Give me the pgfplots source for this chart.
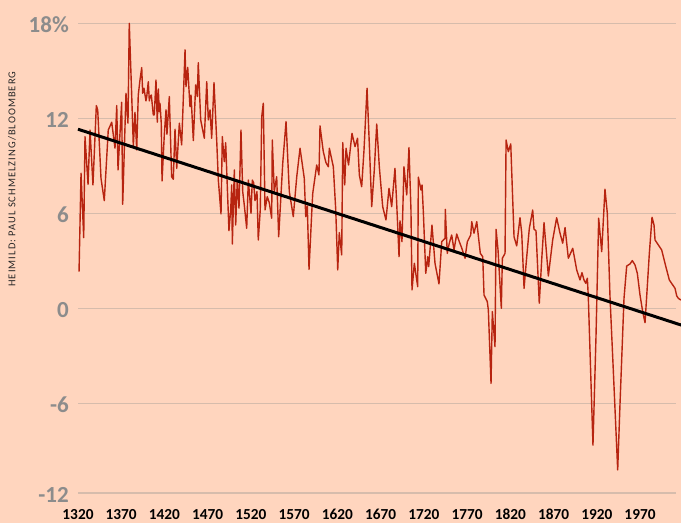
\documentclass[border=0pt]{standalone}
\usepackage{fontspec}
\setmainfont{Carlito}
\newfontfamily\srcfont[LetterSpace=10]{Carlito}
\usepackage{pgfplots}
\pgfplotsset{compat=1.18}
\definecolor{bg}{RGB}{255,213,190}
\definecolor{redline}{RGB}{183,36,16}
\definecolor{gridc}{RGB}{214,188,172}
\definecolor{tickgray}{RGB}{140,140,140}
\pgfplotstableread{
year value
1321.2 2.31
1323.5 8.53
1326.6 4.46
1328.1 10.84
1331.6 7.83
1333.9 11.26
1337.3 7.79
1341.2 12.80
1342.8 12.53
1346.6 8.21
1350.4 6.80
1355.0 11.26
1359.0 11.75
1362.8 10.11
1364.8 12.80
1366.3 8.74
1370.5 13.01
1371.7 6.57
1375.5 13.58
1377.8 11.69
1379.3 18.0
1382.1 13.47
1384.0 10.21
1385.9 12.38
1387.9 10.0
1389.7 13.47
1391.7 14.42
1393.7 15.2
1394.8 13.58
1396.3 13.9
1398.6 13.1
1399.5 13.37
1401.3 14.31
1402.5 13.1
1403.3 13.37
1404.8 13.47
1407.1 12.21
1408.2 12.21
1410.2 14.42
1411.7 11.75
1412.9 13.85
1414.0 12.42
1414.8 12.95
1416.3 11.69
1417.2 8.04
1419.8 10.95
1421.8 12.53
1422.9 10.99
1425.6 13.37
1428.3 8.31
1430.2 8.15
1432.2 11.31
1434.2 8.84
1437.2 11.69
1439.9 10.32
1443.8 16.32
1444.9 14.0
1446.9 15.22
1449.5 12.74
1450.7 13.47
1453.4 10.59
1456.1 14.11
1458.0 13.37
1459.1 15.51
1461.9 11.9
1464.2 11.26
1466.1 10.74
1468.9 14.31
1470.7 11.9
1472.7 12.53
1474.6 10.74
1477.3 14.25
1480.4 10.63
1482.3 8.1
1485.4 5.96
1486.9 10.84
1489.2 9.26
1490.8 10.46
1493.1 7.05
1494.6 4.9
1496.6 6.21
1497.8 7.79
1498.5 4.06
1500.8 8.74
1502.4 5.26
1504.2 8.1
1506.2 6.32
1508.5 11.26
1510.5 7.37
1512.3 6.53
1515.1 5.05
1517.0 8.1
1520.1 6.0
1521.6 8.1
1523.2 7.92
1524.7 6.8
1527.0 7.37
1528.5 4.31
1530.8 6.21
1532.5 12.1
1534.3 12.95
1536.3 6.21
1538.9 7.05
1541.3 6.65
1544.0 5.69
1544.7 10.63
1547.0 7.37
1549.8 8.31
1552.1 4.52
1556.8 9.16
1560.6 11.79
1564.4 7.37
1569.0 5.79
1573.0 8.31
1576.8 10.11
1581.7 8.21
1583.4 5.79
1585.2 6.46
1587.2 2.46
1590.3 6.0
1591.5 7.26
1596.1 9.05
1598.7 8.42
1599.9 11.52
1603.7 9.89
1606.8 9.2
1609.5 8.94
1610.7 10.11
1615.3 8.94
1618.1 6.21
1620.4 2.42
1622.2 4.78
1625.0 3.37
1626.2 10.46
1628.5 7.79
1630.0 10.11
1632.9 9.05
1636.9 11.05
1640.4 10.21
1643.3 10.74
1645.4 8.42
1648.1 7.68
1650.8 10.0
1654.3 13.9
1656.9 10.42
1659.7 6.42
1662.7 8.74
1665.5 11.64
1668.5 8.94
1672.4 6.42
1676.2 5.58
1679.7 7.58
1682.8 6.42
1686.6 8.84
1688.6 6.63
1691.3 3.26
1692.4 5.53
1694.7 4.21
1697.0 8.94
1700.2 7.16
1702.8 10.15
1705.1 6.21
1706.3 1.16
1709.0 2.84
1712.9 1.36
1713.6 8.28
1716.7 7.47
1717.9 7.79
1719.4 6.1
1722.2 2.21
1724.5 3.26
1725.6 2.63
1729.4 5.26
1732.9 2.84
1737.5 1.54
1740.7 4.21
1744.5 4.42
1744.8 6.25
1747.1 3.47
1749.4 4.11
1752.2 4.63
1754.9 3.68
1758.0 4.69
1761.0 4.21
1763.8 3.81
1767.6 3.16
1770.3 4.21
1774.2 4.63
1775.4 5.47
1778.0 4.74
1781.2 5.47
1785.3 3.47
1788.1 3.26
1789.6 0.84
1793.4 0.42
1794.6 -0.11
1797.7 -4.74
1799.2 -0.21
1802.3 -2.43
1803.5 4.99
1805.8 3.68
1809.6 0.0
1810.8 3.16
1813.9 3.47
1815.1 10.63
1817.7 9.89
1820.5 10.38
1824.3 4.52
1827.4 3.94
1831.2 5.72
1833.2 4.76
1835.9 1.26
1839.0 3.26
1842.0 5.05
1845.9 6.21
1847.4 4.99
1849.7 4.9
1853.5 0.32
1856.3 3.05
1859.0 5.41
1864.0 2.04
1869.0 4.31
1873.6 5.72
1877.5 4.74
1880.6 4.11
1883.3 5.1
1887.1 3.16
1892.2 3.79
1896.8 2.42
1900.6 1.79
1902.9 2.25
1905.2 1.79
1907.2 1.58
1909.1 1.9
1910.2 0.73
1915.6 -8.64
1919.1 -1.79
1922.2 5.69
1925.7 3.58
1929.5 7.52
1932.2 6.0
1935.3 0.73
1939.1 -3.9
1944.2 -10.21
1946.9 -6.0
1951.5 0.63
1954.6 2.67
1958.4 2.8
1961.1 3.01
1964.2 2.74
1966.9 2.21
1970.0 0.84
1973.1 -0.21
1975.8 -0.91
1977.7 0.73
1980.8 3.47
1983.9 5.75
1986.2 5.26
1987.4 4.31
1991.2 4.0
1995.1 3.68
1998.9 2.84
2003.9 1.79
2010.5 1.26
2012.5 0.78
2014.3 0.63
2017.4 0.52
}\ratedata
\begin{document}
\begin{tikzpicture}[x=1bp,y=1bp]
\fill[bg] (0,0) rectangle (681,523);
\begin{scope}
\clip (0,0) rectangle (681,523);
\begin{axis}[
  at={(78bp,24.7bp)}, anchor=south west,
  scale only axis, width=598bp, height=475bp,
  xmin=1320, xmax=2011.65, ymin=-12, ymax=18,
  clip=false,
  axis line style={draw=none},
  major tick style={draw=none},
  xtick={1320,1370,1420,1470,1520,1570,1620,1670,1720,1770,1820,1870,1920,1970},
  xticklabels={1320,1370,1420,1470,1520,1570,1620,1670,1720,1770,1820,1870,1920,1970},
  ytick={-11.67,-6,0,6,12,18},
  yticklabels={-12,-6,0,6,12,18\%},
  ymajorgrids,
  major grid style={draw=gridc, line width=1.3bp},
  xticklabel style={font=\fontsize{15.3bp}{15.3bp}\selectfont\bfseries, text=black, anchor=base, inner sep=0pt, yshift=-21.6bp},
  yticklabel style={font=\fontsize{23bp}{23bp}\selectfont\bfseries, text=tickgray, anchor=east, inner sep=0pt, xshift=-9bp, yshift=-1.5bp},
  ylabel={\srcfont HEIMILD: PAUL SCHMELZING/BLOOMBERG},
  ylabel style={at={(axis description cs:-0.1104,0.672)}, anchor=center, font=\fontsize{10.5bp}{10.5bp}\selectfont, text=black!85},
]
\addplot[redline, line width=1.4bp, line join=round, mark=none] table[x=year, y=value] {\ratedata};
\addplot[black, line width=3bp, mark=none] coordinates {(1320,11.31) (2020,-1.1)};
\end{axis}
\end{scope}
\pgfresetboundingbox
\path[use as bounding box] (0,0) rectangle (681,523);
\end{tikzpicture}
\end{document}
